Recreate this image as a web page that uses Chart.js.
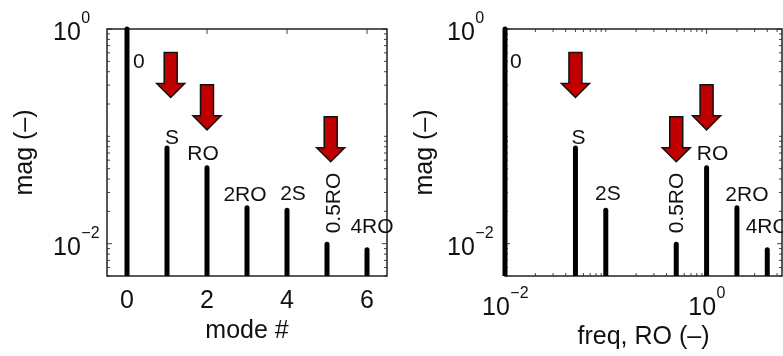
<!DOCTYPE html>
<html>
<head>
<meta charset="utf-8">
<script src="https://cdn.jsdelivr.net/npm/chart.js@4.4.1/dist/chart.umd.min.js"></script>
<style>
  body { margin: 0; background: #fff; }
  canvas { position: absolute; top: 0; }
</style>
</head>
<body>
<canvas id="modeChart" width="400" height="356" style="left:0"></canvas>
<canvas id="freqChart" width="383" height="356" style="left:400px"></canvas>
<script>
// data
const labels = ['0', 'S', 'RO', '2RO', '2S', '0.5RO', '4RO'];
const modes = [0, 1, 2, 3, 4, 5, 6];
const freqs = [0, 0.05, 1, 2, 0.1, 0.5, 4];
const mags = [1, 0.078, 0.051, 0.0216, 0.0205, 0.0099, 0.0088];
const arrowLabels = ['S', 'RO', '0.5RO'];
const arrowTips = [0.23, 0.115, 0.058];
const modeTicks = [0, 2, 4, 6];
const freqTicks = [0.01, 1];
const magTicks = [0.01, 1];

const FONT = '"Liberation Sans", Arial, Helvetica, sans-serif';
const INK = '#111';

// label look (same in both panels)
const labelAlign = ['left', 'center', 'center', 'center', 'center', 'rot', 'center'];
const labelDy = [38.5, -3.8, -7.8, -7.2, -9.8, -10.8, -16.7];

function drawPow(ctx, exp, x, base, centered) {
  ctx.font = '25px ' + FONT;
  const w1 = ctx.measureText('10').width;
  const sup = exp < 0 ? '\u2212' + (-exp) : String(exp);
  ctx.font = '16px ' + FONT;
  const w2 = ctx.measureText(sup).width;
  const x0 = centered ? x - (w1 + w2) / 2 : x;
  ctx.textAlign = 'left';
  ctx.textBaseline = 'alphabetic';
  ctx.font = '25px ' + FONT;
  ctx.fillText('10', x0, base);
  ctx.font = '16px ' + FONT;
  ctx.fillText(sup, x0 + w1 + 0.5, base - 17);
}

function drawArrow(ctx, cx, tipY) {
  const sw = 6.5, hw = 14, hl = 14, sl = 31;
  ctx.beginPath();
  ctx.moveTo(cx - sw, tipY - hl - sl);
  ctx.lineTo(cx + sw, tipY - hl - sl);
  ctx.lineTo(cx + sw, tipY - hl);
  ctx.lineTo(cx + hw, tipY - hl);
  ctx.lineTo(cx, tipY);
  ctx.lineTo(cx - hw, tipY - hl);
  ctx.lineTo(cx - sw, tipY - hl);
  ctx.closePath();
  ctx.fillStyle = '#c00000';
  ctx.fill();
  ctx.strokeStyle = '#111';
  ctx.lineWidth = 1.5;
  ctx.stroke();
}

function logMinors(min, max, majors) {
  const out = [];
  for (let e = Math.floor(Math.log10(min)); e <= Math.ceil(Math.log10(max)); e++) {
    for (let m = 1; m <= 9; m++) {
      const v = m * Math.pow(10, e);
      if (v >= min && v <= max && !majors.includes(v)) out.push(v);
    }
  }
  return out;
}

function framePlugin(cfg) {
  return {
    id: 'frame',
    beforeDatasetsDraw(chart) {
      const { ctx, chartArea: a, scales: { x, y } } = chart;
      ctx.save();
      ctx.strokeStyle = '#444';
      ctx.lineWidth = 1;
      const xMinor = cfg.xType === 'logarithmic' ? logMinors(cfg.xMin, cfg.xMax, cfg.xTicks) : [];
      const yMinor = logMinors(0.005, 1, magTicks);
      const tick = (list, len, vertical) => {
        list.forEach(v => {
          ctx.beginPath();
          if (vertical) {
            const p = x.getPixelForValue(v);
            ctx.moveTo(p, a.bottom); ctx.lineTo(p, a.bottom - len);
            ctx.moveTo(p, a.top); ctx.lineTo(p, a.top + len);
          } else {
            const p = y.getPixelForValue(v);
            ctx.moveTo(a.left, p); ctx.lineTo(a.left + len, p);
            ctx.moveTo(a.right, p); ctx.lineTo(a.right - len, p);
          }
          ctx.stroke();
        });
      };
      tick(cfg.xTicks, 5, true);
      tick(xMinor, 3, true);
      tick(magTicks, 5, false);
      tick(yMinor, 3, false);
      ctx.strokeStyle = '#222';
      ctx.lineWidth = 1.5;
      ctx.strokeRect(a.left, a.top, a.right - a.left, a.bottom - a.top);
      ctx.restore();
    },
    afterDatasetsDraw(chart) {
      const { ctx, chartArea: a, scales: { x, y } } = chart;
      ctx.save();
      ctx.fillStyle = INK;

      // stem labels
      labels.forEach((t, i) => {
        const px = x.getPixelForValue(cfg.xs[i]) + cfg.labelDx[i];
        const py = y.getPixelForValue(mags[i]) + labelDy[i];
        ctx.font = '21px ' + FONT;
        if (labelAlign[i] === 'rot') {
          ctx.save();
          ctx.translate(px, py);
          ctx.rotate(-Math.PI / 2);
          ctx.textAlign = 'left';
          ctx.textBaseline = 'middle';
          ctx.fillText(t, 0, 0);
          ctx.restore();
        } else {
          ctx.textAlign = labelAlign[i];
          ctx.textBaseline = 'alphabetic';
          ctx.fillText(t, px, py);
        }
      });

      // red arrows
      arrowLabels.forEach((t, k) => {
        const i = labels.indexOf(t);
        drawArrow(ctx, x.getPixelForValue(cfg.xs[i]) + cfg.arrowDx[k], y.getPixelForValue(arrowTips[k]));
      });

      ctx.fillStyle = INK;
      // y tick labels
      magTicks.forEach(v => {
        const p = y.getPixelForValue(v);
        drawPow(ctx, Math.round(Math.log10(v)), a.left - cfg.yLabelOff, p + 11, false);
      });
      // x tick labels
      cfg.xTicks.forEach(v => {
        const p = x.getPixelForValue(v);
        if (cfg.xType === 'logarithmic') {
          drawPow(ctx, Math.round(Math.log10(v)), p, a.bottom + 39, true);
        } else {
          ctx.font = '25px ' + FONT;
          ctx.textAlign = 'center';
          ctx.textBaseline = 'alphabetic';
          ctx.fillText(String(v), p, a.bottom + 32);
        }
      });

      // axis titles
      ctx.font = '25px ' + FONT;
      ctx.textAlign = 'center';
      ctx.textBaseline = 'alphabetic';
      ctx.fillText(cfg.xTitle, (a.left + a.right) / 2, a.bottom + cfg.titleBase);
      ctx.save();
      ctx.translate(a.left - cfg.yTitleOff, (a.top + a.bottom) / 2);
      ctx.rotate(-Math.PI / 2);
      ctx.fillText('mag (\u2013)', 0, 0);
      ctx.restore();

      ctx.restore();
    }
  };
}

function makePanel(cfg) {
  const datasets = labels.map((t, i) => {
    let xv = cfg.xs[i];
    if (cfg.xType === 'logarithmic' && xv <= 0) xv = cfg.xMin;
    cfg.xs[i] = xv;
    return {
      label: t,
      data: [{ x: xv, y: 0.005 }, { x: xv, y: mags[i] }],
      showLine: true,
      borderColor: '#000',
      borderWidth: 5,
      borderCapStyle: 'round',
      pointRadius: 0,
      clip: { left: 10, top: 10, right: 10, bottom: 0 }
    };
  });
  new Chart(document.getElementById(cfg.id), {
    type: 'scatter',
    data: { datasets },
    options: {
      responsive: false,
      animation: false,
      devicePixelRatio: 1,
      layout: { padding: cfg.padding },
      plugins: { legend: { display: false }, tooltip: { enabled: false } },
      scales: {
        x: { type: cfg.xType, min: cfg.xMin, max: cfg.xMax, bounds: 'data', display: false },
        y: { type: 'logarithmic', min: 0.005, max: 1, bounds: 'data', display: false }
      }
    },
    plugins: [framePlugin(cfg)]
  });
}

makePanel({
  id: 'modeChart', xs: modes.slice(), xType: 'linear', xMin: -0.5, xMax: 6.5, xTicks: modeTicks,
  padding: { left: 107, top: 29, right: 13, bottom: 80 },
  xTitle: 'mode #', titleBase: 62, yTitleOff: 75, yLabelOff: 54,
  labelDx: [6, 5, -4, -2, 6, 7, 5], arrowDx: [3.7, 0, 3.7]
});

makePanel({
  id: 'freqChart', xs: freqs.slice(), xType: 'logarithmic', xMin: 0.01, xMax: 5.6, xTicks: freqTicks,
  padding: { left: 105, top: 29, right: 1, bottom: 80 },
  xTitle: 'freq, RO (\u2013)', titleBase: 68, yTitleOff: 73, yLabelOff: 58,
  labelDx: [5, 3, 6, 10, 2, 1, 0], arrowDx: [0, 0, 0]
});
</script>
</body>
</html>
